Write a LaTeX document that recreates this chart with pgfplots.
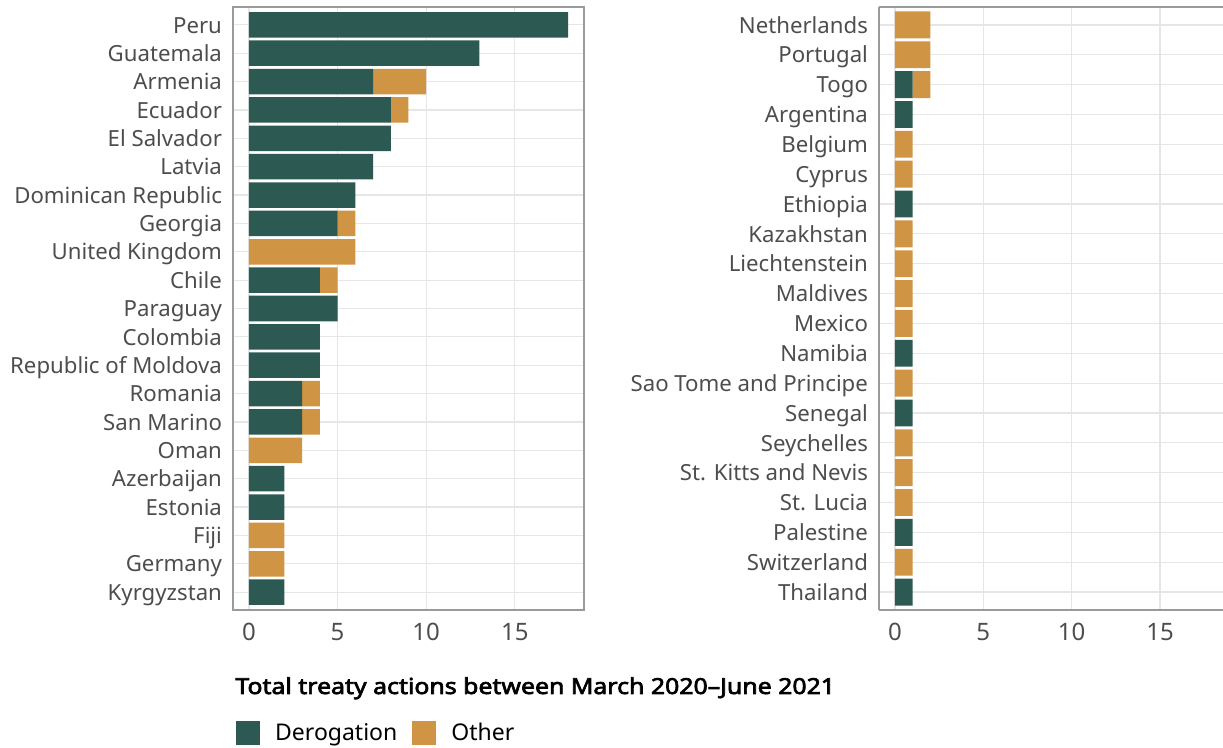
\documentclass[border=0pt]{standalone}
\usepackage{pgfplots}
\pgfplotsset{compat=1.18}
\usepackage{fontspec}
\setmainfont{Noto Sans}
\newfontfamily\titlefont{Noto Sans}[FakeBold=3, FakeStretch=1.13]
\definecolor{derog}{HTML}{2C5A52}
\definecolor{other}{HTML}{CF9444}
\definecolor{tickc}{HTML}{4D4D4D}
\definecolor{gridc}{HTML}{E6E6E6}
\definecolor{framec}{HTML}{9A9A9A}
\pgfplotsset{mystyle/.style={
  scale only axis, xbar stacked, bar width=0.9, y dir=reverse,
  xmin=-0.9, xtick={0,5,10,15},
  xmajorgrids, ymajorgrids, major grid style={gridc, line width=0.6pt},
  major tick length=0pt,
  axis line style={-, framec, line width=0.6pt},
  tick label style={tickc},
  yticklabel style={font=\fontsize{11.1}{12}\selectfont, anchor=base east, xshift=-2pt, yshift=-4.1pt},
  xticklabel style={font=\fontsize{12}{14}\selectfont, yshift=-3pt},
  /pgf/number format/assume math mode=true,
}}
\begin{document}
\begin{tikzpicture}
\useasboundingbox (0,0) rectangle (611.5pt,374pt);
\begin{axis}[mystyle,
  at={(116.5pt,69pt)}, anchor=south west,
  width=175.5pt, height=301.5pt,
  xmax=18.9, ymin=-0.63, ymax=20.63,
  ytick={0,...,20},
  yticklabels={Peru,Guatemala,Armenia,Ecuador,El Salvador,Latvia,Dominican Republic,Georgia,United Kingdom,Chile,Paraguay,Colombia,Republic of Moldova,Romania,San Marino,Oman,Azerbaijan,Estonia,Fiji,Germany,Kyrgyzstan},
  legend style={at={(axis description cs:0.008,-0.18)}, anchor=north west, draw=none, fill=none,
    legend columns=2, font=\fontsize{11.5}{13}\selectfont, inner sep=0pt,
    /tikz/every odd column/.append style={column sep=5.5pt},
    /tikz/every even column/.append style={column sep=5.5pt}},
  legend image code/.code={\fill[#1] (0pt,-6pt) rectangle (12pt,6pt);},
]
\addplot[fill=derog, draw=none] coordinates {
(18,0) (13,1) (7,2) (8,3) (8,4) (7,5) (6,6) (5,7) (0,8) (4,9) (5,10) (4,11) (4,12) (3,13) (3,14) (0,15) (2,16) (2,17) (0,18) (0,19) (2,20)};
\addlegendentry{Derogation}
\addplot[fill=other, draw=none] coordinates {
(0,0) (0,1) (3,2) (1,3) (0,4) (0,5) (0,6) (1,7) (6,8) (1,9) (0,10) (0,11) (0,12) (1,13) (1,14) (3,15) (0,16) (0,17) (2,18) (2,19) (0,20)};
\addlegendentry{Other}
\end{axis}
\begin{axis}[mystyle,
  at={(439.5pt,69pt)}, anchor=south west,
  width=172pt, height=301.5pt,
  xmax=18.56, ymin=-0.6, ymax=19.6,
  axis x line*=box, axis y line*=left,
  ytick={0,...,19},
  yticklabels={Netherlands,Portugal,Togo,Argentina,Belgium,Cyprus,Ethiopia,Kazakhstan,Liechtenstein,Maldives,Mexico,Namibia,Sao Tome and Principe,Senegal,Seychelles,St. Kitts and Nevis,St. Lucia,Palestine,Switzerland,Thailand},
]
\addplot[fill=derog, draw=none] coordinates {
(0,0) (0,1) (1,2) (1,3) (0,4) (0,5) (1,6) (0,7) (0,8) (0,9) (0,10) (1,11) (0,12) (1,13) (0,14) (0,15) (0,16) (1,17) (0,18) (1,19)};
\addplot[fill=other, draw=none] coordinates {
(2,0) (2,1) (1,2) (0,3) (1,4) (1,5) (0,6) (1,7) (1,8) (1,9) (1,10) (0,11) (1,12) (0,13) (1,14) (1,15) (1,16) (0,17) (1,18) (0,19)};
\end{axis}
\node[anchor=base west, font=\titlefont\fontsize{11}{13}\selectfont, inner sep=0pt] at (117.5pt,27pt) {Total treaty actions between March 2020–June 2021};
\end{tikzpicture}
\end{document}
